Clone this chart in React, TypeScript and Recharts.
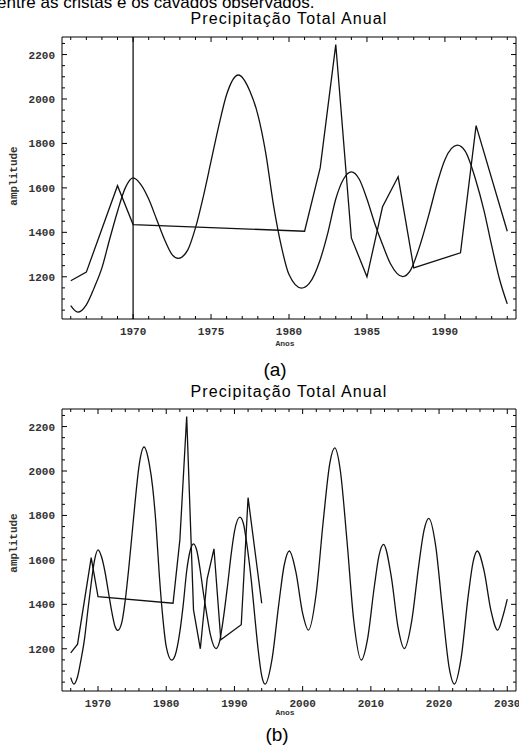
import React from 'react';
import { LineChart, Line, XAxis, YAxis, ReferenceLine } from 'recharts';

// precipitação observada (anos com registro)
const anosObs = [1966, 1967, 1969, 1970, 1981, 1982, 1983, 1984, 1985, 1986, 1987, 1988, 1991, 1992, 1994];
const precipObs = [1182, 1221, 1610, 1435, 1405, 1690, 2245, 1375, 1200, 1515, 1650, 1240, 1308, 1880, 1405];

// curva ajustada
const anosAjuste = [
  1966, 1966.45, 1967, 1967.5, 1968, 1968.5, 1969, 1969.5, 1970, 1970.5, 1971, 1971.5, 1972, 1972.5, 1972.9,
  1973.5, 1974, 1974.5, 1975, 1975.5, 1976, 1976.75, 1977.5, 1978, 1978.5, 1979, 1979.5, 1980, 1980.8,
  1981.3, 1982, 1982.5, 1983, 1983.5, 1984, 1984.5, 1985, 1985.5, 1986, 1986.5, 1987.3, 1987.8, 1988.3,
  1989, 1989.5, 1990, 1990.8, 1991.3, 1992, 1992.5, 1993, 1993.5, 1994, 1994.5, 1995.5, 1996.5, 1997.3,
  1998.05, 1999, 2000, 2000.85, 2002, 2003, 2004, 2004.7, 2005.5, 2006.5, 2007.5, 2008.6, 2009.5, 2010.5,
  2011.2, 2011.85, 2013, 2014, 2014.9, 2016, 2017, 2017.8, 2018.5, 2019.5, 2020.5, 2021.5, 2022.25,
  2023.2, 2024.3, 2025, 2025.6, 2026.6, 2027.6, 2028.6, 2029.3, 2030,
];
const valoresAjuste = [
  1070, 1041, 1074, 1150, 1240, 1370, 1494, 1600, 1645, 1615, 1550, 1460, 1370, 1300, 1283,
  1320, 1420, 1560, 1720, 1880, 2020, 2108, 2034, 1930, 1760, 1525, 1340, 1210, 1149,
  1170, 1277, 1400, 1550, 1640, 1672, 1640, 1550, 1440, 1345, 1260, 1201, 1230, 1320,
  1487, 1620, 1727, 1792, 1765, 1630, 1500, 1340, 1190, 1078, 1041, 1151, 1400, 1577,
  1640, 1547, 1359, 1284, 1452, 1768, 2038, 2104, 2008, 1686, 1325, 1149, 1241, 1478,
  1620, 1670, 1524, 1294, 1201, 1327, 1570, 1734, 1787, 1664, 1377, 1112, 1041,
  1151, 1445, 1592, 1640, 1551, 1373, 1284, 1340, 1423,
];

const ticksY = [1050, 1100, 1150, 1200, 1250, 1300, 1350, 1400, 1450, 1500, 1550, 1600, 1650, 1700, 1750, 1800, 1850, 1900, 1950, 2000, 2050, 2100, 2150, 2200, 2250];
const rotulosY = [1200, 1400, 1600, 1800, 2000, 2200];
const ticksXa = [1966, 1967, 1968, 1969, 1970, 1971, 1972, 1973, 1974, 1975, 1976, 1977, 1978, 1979, 1980, 1981, 1982, 1983, 1984, 1985, 1986, 1987, 1988, 1989, 1990, 1991, 1992, 1993, 1994];
const rotulosXa = [1970, 1975, 1980, 1985, 1990];
const ticksXb = [1966, 1968, 1970, 1972, 1974, 1976, 1978, 1980, 1982, 1984, 1986, 1988, 1990, 1992, 1994, 1996, 1998, 2000, 2002, 2004, 2006, 2008, 2010, 2012, 2014, 2016, 2018, 2020, 2022, 2024, 2026, 2028, 2030];
const rotulosXb = [1970, 1980, 1990, 2000, 2010, 2020, 2030];

const observado = anosObs.map((ano, i) => ({ ano, valor: precipObs[i] }));
const ajusteTodo = anosAjuste.map((ano, i) => ({ ano, valor: valoresAjuste[i] }));
const ajusteAte1994 = ajusteTodo.filter((d) => d.ano <= 1994);

const fonteMono = '"Liberation Mono", "DejaVu Sans Mono", monospace';
const fonteSans = '"Liberation Sans", Arial, sans-serif';

const marca = (lado: string, rotulos: number[]) => (props: any) => {
  const { x, y, payload } = props;
  const v = payload.value;
  const principal = rotulos.includes(v);
  const len = principal ? 5 : 3;
  if (lado === 'bottom') {
    return (
      <g>
        <line x1={x} y1={y} x2={x} y2={y - len} stroke="#000" />
        {principal && (
          <text x={x} y={y + 16} textAnchor="middle" fontFamily={fonteMono} fontSize={11} fontWeight={700} fill="#333">
            {v}
          </text>
        )}
      </g>
    );
  }
  if (lado === 'top') return <line x1={x} y1={y} x2={x} y2={y + len} stroke="#000" />;
  if (lado === 'right') return <line x1={x} y1={y} x2={x - len} y2={y} stroke="#000" />;
  return (
    <g>
      <line x1={x} y1={y} x2={x + len} y2={y} stroke="#000" />
      {principal && (
        <text x={x - 7} y={y + 4} textAnchor="end" fontFamily={fonteMono} fontSize={11} fontWeight={700} fill="#333">
          {v}
        </text>
      )}
    </g>
  );
};

const Grafico = ({ dominioX, ticksX, rotulosX, ajuste, referencia, topo, alturaX }: any) => (
  <LineChart width={519} height={340} margin={{ top: topo - 1, right: 2, bottom: 0, left: 0 }}>
    <XAxis xAxisId="b" type="number" dataKey="ano" domain={dominioX} ticks={ticksX} interval={0}
      tickSize={0} tickMargin={0} height={alturaX} axisLine={{ stroke: '#000' }} tickLine={false}
      tick={marca('bottom', rotulosX)} />
    <XAxis xAxisId="t" orientation="top" type="number" dataKey="ano" domain={dominioX} ticks={ticksX} interval={0}
      tickSize={0} tickMargin={0} height={1} axisLine={{ stroke: '#000' }} tickLine={false}
      tick={marca('top', rotulosX)} />
    <YAxis yAxisId="l" type="number" domain={[1010, 2279]} ticks={ticksY} interval={0} width={62}
      tickSize={0} tickMargin={0} axisLine={{ stroke: '#000' }} tickLine={false}
      tick={marca('left', rotulosY)} />
    <YAxis yAxisId="r" orientation="right" type="number" domain={[1010, 2279]} ticks={ticksY} interval={0} width={1}
      tickSize={0} tickMargin={0} axisLine={{ stroke: '#000' }} tickLine={false}
      tick={marca('right', rotulosY)} />
    {referencia && <ReferenceLine xAxisId="b" yAxisId="l" x={1970} stroke="#000" strokeWidth={1.2} />}
    <Line xAxisId="t" yAxisId="r" data={observado} dataKey="valor" type="linear" stroke="none"
      dot={false} legendType="none" isAnimationActive={false} />
    <Line xAxisId="b" yAxisId="l" data={ajuste} dataKey="valor" type="monotone" stroke="#111"
      strokeWidth={1.3} dot={false} isAnimationActive={false} />
    <Line xAxisId="b" yAxisId="l" data={observado} dataKey="valor" type="linear" stroke="#111"
      strokeWidth={1.3} dot={false} isAnimationActive={false} />
  </LineChart>
);

export default function App() {
  return (
    <div style={{ position: 'absolute', top: 0, left: 0, width: 519, height: 749, overflow: 'hidden', background: '#fff' }}>
      <div style={{ position: 'absolute', top: 0, left: 0 }}>
        <Grafico dominioX={[1965.44, 1994.56]} ticksX={ticksXa} rotulosX={rotulosXa} ajuste={ajusteAte1994}
          referencia topo={37} alturaX={21} />
      </div>
      <div style={{ position: 'absolute', top: 370, left: 0 }}>
        <Grafico dominioX={[1964.72, 2031.28]} ticksX={ticksXb} rotulosX={rotulosXb} ajuste={ajusteTodo}
          referencia={false} topo={39} alturaX={19} />
      </div>
      <svg width={519} height={749} style={{ position: 'absolute', top: 0, left: 0, pointerEvents: 'none' }}>
        <text x={-3} y={8} fontFamily={fonteSans} fontSize={17} fill="#000">entre as cristas e os cavados observados.</text>
        <text x={289} y={23.5} textAnchor="middle" fontFamily={fonteSans} fontSize={16} letterSpacing={1.1} fill="#000">Precipitação Total Anual</text>
        <text x={289} y={396.5} textAnchor="middle" fontFamily={fonteSans} fontSize={16} letterSpacing={1.1} fill="#000">Precipitação Total Anual</text>
        <text x={275} y={376} textAnchor="middle" fontFamily={fonteSans} fontSize={19} fill="#000">(a)</text>
        <text x={277} y={741} textAnchor="middle" fontFamily={fonteSans} fontSize={19} fill="#000">(b)</text>
        <text x={285} y={346} textAnchor="middle" fontFamily={fonteMono} fontSize={8} fontWeight={700} fill="#333">Anos</text>
        <text x={285} y={715} textAnchor="middle" fontFamily={fonteMono} fontSize={8} fontWeight={700} fill="#333">Anos</text>
        <text transform="translate(17,176) rotate(-90)" textAnchor="middle" fontFamily={fonteMono} fontSize={11} fontWeight={700} fill="#333">amplitude</text>
        <text transform="translate(17,543) rotate(-90)" textAnchor="middle" fontFamily={fonteMono} fontSize={11} fontWeight={700} fill="#333">amplitude</text>
      </svg>
    </div>
  );
}
